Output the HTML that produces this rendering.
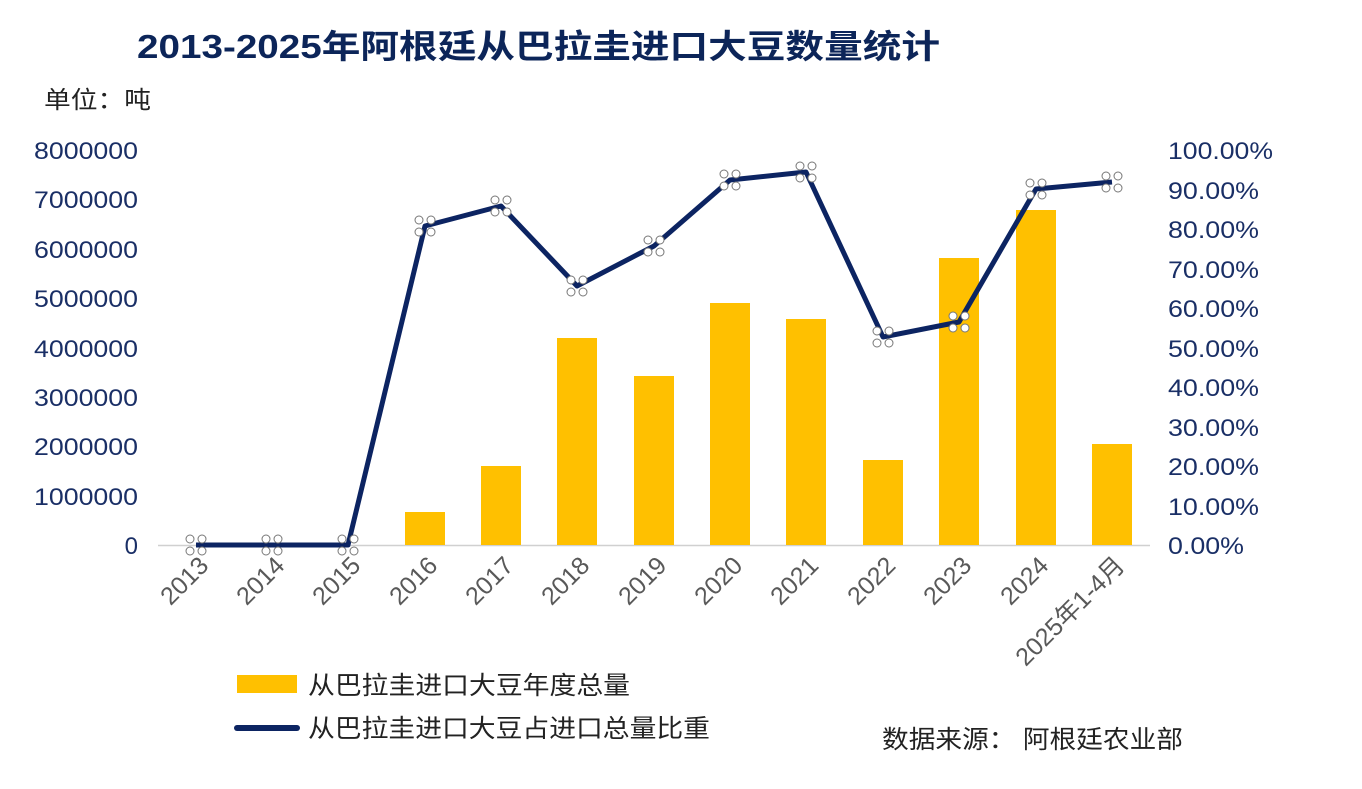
<!DOCTYPE html>
<html><head><meta charset="utf-8"><style>body{margin:0;background:#fff}svg{display:block}</style></head>
<body>
<svg width="1362" height="789" xmlns="http://www.w3.org/2000/svg" font-family="Liberation Sans, Noto Sans CJK SC, sans-serif">
<defs>
<g id="m"><circle cx="-6" cy="-6" r="4"/><circle cx="6" cy="-6" r="4"/><circle cx="-6" cy="6" r="4"/><circle cx="6" cy="6" r="4"/></g>
</defs>
<text x="137" y="58" font-size="33" font-weight="bold" fill="#0c2559" textLength="803" lengthAdjust="spacingAndGlyphs">2013-2025年阿根廷从巴拉圭进口大豆数量统计</text>
<text x="44" y="108" font-size="24" fill="#222" textLength="107" lengthAdjust="spacingAndGlyphs">单位：吨</text>
<g font-size="24" fill="#1a2f66" text-anchor="end">
<text x="138" y="159" textLength="104" lengthAdjust="spacingAndGlyphs">8000000</text>
<text x="138" y="208" textLength="104" lengthAdjust="spacingAndGlyphs">7000000</text>
<text x="138" y="258" textLength="104" lengthAdjust="spacingAndGlyphs">6000000</text>
<text x="138" y="307" textLength="104" lengthAdjust="spacingAndGlyphs">5000000</text>
<text x="138" y="357" textLength="104" lengthAdjust="spacingAndGlyphs">4000000</text>
<text x="138" y="406" textLength="104" lengthAdjust="spacingAndGlyphs">3000000</text>
<text x="138" y="455" textLength="104" lengthAdjust="spacingAndGlyphs">2000000</text>
<text x="138" y="505" textLength="104" lengthAdjust="spacingAndGlyphs">1000000</text>
<text x="138" y="554">0</text>
</g>
<g font-size="24" fill="#1a2f66">
<text x="1168" y="159" textLength="105" lengthAdjust="spacingAndGlyphs">100.00%</text>
<text x="1168" y="199" textLength="91" lengthAdjust="spacingAndGlyphs">90.00%</text>
<text x="1168" y="238" textLength="91" lengthAdjust="spacingAndGlyphs">80.00%</text>
<text x="1168" y="278" textLength="91" lengthAdjust="spacingAndGlyphs">70.00%</text>
<text x="1168" y="317" textLength="91" lengthAdjust="spacingAndGlyphs">60.00%</text>
<text x="1168" y="357" textLength="91" lengthAdjust="spacingAndGlyphs">50.00%</text>
<text x="1168" y="396" textLength="91" lengthAdjust="spacingAndGlyphs">40.00%</text>
<text x="1168" y="436" textLength="91" lengthAdjust="spacingAndGlyphs">30.00%</text>
<text x="1168" y="475" textLength="91" lengthAdjust="spacingAndGlyphs">20.00%</text>
<text x="1168" y="515" textLength="91" lengthAdjust="spacingAndGlyphs">10.00%</text>
<text x="1168" y="554" textLength="76" lengthAdjust="spacingAndGlyphs">0.00%</text>
</g>
<line x1="158" y1="545.5" x2="1150" y2="545.5" stroke="#d0d0d0" stroke-width="1.5"/>
<g fill="#ffc000">
<rect x="405" y="512" width="40" height="33"/>
<rect x="481" y="466" width="40" height="79"/>
<rect x="557" y="338" width="40" height="207"/>
<rect x="634" y="376" width="40" height="169"/>
<rect x="710" y="303" width="40" height="242"/>
<rect x="786" y="319" width="40" height="226"/>
<rect x="863" y="460" width="40" height="85"/>
<rect x="939" y="258" width="40" height="287"/>
<rect x="1016" y="210" width="40" height="335"/>
<rect x="1092" y="444" width="40" height="101"/>
</g>
<polyline fill="none" stroke="#0c2462" stroke-width="5" stroke-linejoin="round" points="196,545 272,545 348,545 425,226 501,206 577,286 654,246 730,180 806,172 883,337 959,322 1036,189 1112,182"/>
<g fill="#fff" stroke="#777" stroke-width="1">
<use href="#m" x="196" y="545"/><use href="#m" x="272" y="545"/><use href="#m" x="348" y="545"/><use href="#m" x="425" y="226"/><use href="#m" x="501" y="206"/><use href="#m" x="577" y="286"/><use href="#m" x="654" y="246"/><use href="#m" x="730" y="180"/><use href="#m" x="806" y="172"/><use href="#m" x="883" y="337"/><use href="#m" x="959" y="322"/><use href="#m" x="1036" y="189"/><use href="#m" x="1112" y="182"/>
</g>
<g font-size="25" fill="#595959" text-anchor="end">
<text transform="translate(210,567) rotate(-45)">2013</text>
<text transform="translate(286,567) rotate(-45)">2014</text>
<text transform="translate(362,567) rotate(-45)">2015</text>
<text transform="translate(439,567) rotate(-45)">2016</text>
<text transform="translate(515,567) rotate(-45)">2017</text>
<text transform="translate(591,567) rotate(-45)">2018</text>
<text transform="translate(668,567) rotate(-45)">2019</text>
<text transform="translate(744,567) rotate(-45)">2020</text>
<text transform="translate(820,567) rotate(-45)">2021</text>
<text transform="translate(897,567) rotate(-45)">2022</text>
<text transform="translate(973,567) rotate(-45)">2023</text>
<text transform="translate(1050,567) rotate(-45)">2024</text>
<text transform="translate(1126,567) rotate(-45)">2025年1-4月</text>
</g>
<rect x="237" y="675" width="60" height="18" fill="#ffc000"/>
<text x="308" y="694" font-size="25" fill="#222" textLength="322" lengthAdjust="spacingAndGlyphs">从巴拉圭进口大豆年度总量</text>
<line x1="237" y1="728" x2="297" y2="728" stroke="#0c2462" stroke-width="6" stroke-linecap="round"/>
<text x="308" y="737" font-size="25" fill="#222" textLength="402" lengthAdjust="spacingAndGlyphs">从巴拉圭进口大豆占进口总量比重</text>
<text x="882" y="748" font-size="25" fill="#222" textLength="301" lengthAdjust="spacingAndGlyphs">数据来源：  阿根廷农业部</text>
</svg>
</body></html>
